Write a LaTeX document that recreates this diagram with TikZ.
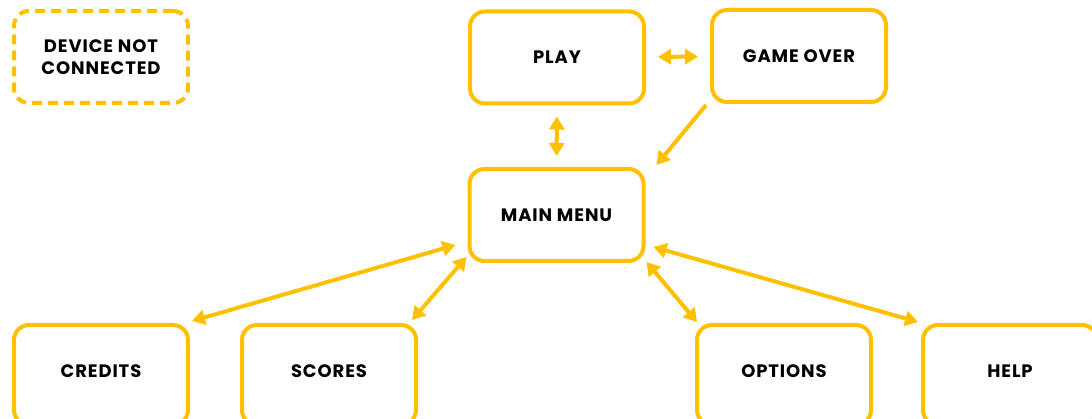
\documentclass[tikz,border=0pt]{standalone}
\usepackage{fontspec}
\setmainfont{Poppins}
\usetikzlibrary{arrows.meta}

\begin{document}
\begin{tikzpicture}[x=1pt, y=-1pt,
    screen/.style={draw=menuyellow, line width=4pt, rounded corners=15pt,
                   minimum width=174pt, minimum height=92pt, inner sep=0pt,
                   align=center, font=\bfseries\fontsize{18}{22}\selectfont\addfontfeature{LetterSpace=5}},
    lowscreen/.style={screen, minimum height=100pt, text depth=8pt},
    link/.style={draw=menuyellow, line width=4pt},
    flow/.style={link, {Triangle[length=13pt,width=15pt]}-{Triangle[length=13pt,width=15pt]}},
    goto/.style={link, -{Triangle[length=13pt,width=15pt]}}]
    \colorlet{menuyellow}{rgb,255:red,255;green,192;blue,0}
    \useasboundingbox (0,0) rectangle (1092,419);

    % screens
    \node[screen, dash pattern=on 10pt off 6pt] (nodev) at (101,57) {DEVICE NOT\\CONNECTED};
    \node[screen] (play)    at (557,57.5) {PLAY};
    \node[screen] (over)    at (799,56)   {GAME OVER};
    \node[screen] (main)    at (556.5,215) {MAIN MENU};
    \node[lowscreen] (credits) at (101,375)  {CREDITS};
    \node[lowscreen] (scores)  at (329,375)  {SCORES};
    \node[lowscreen] (options) at (784,375)  {OPTIONS};
    \node[lowscreen] (help)    at (1010,375) {HELP};

    % transitions
    \draw[flow, shorten <=12pt, shorten >=12pt] (play) -- (over);
    \draw[flow, shorten <=11pt, shorten >=11pt] (play) -- (main);
    \draw[goto] ([shift={(-4,1)}]over.south west) -- ([shift={(11,-2)}]main.north east);
    \draw[flow] ([shift={(-12,30)}]main.west) -- ([shift={(2,-2)}]credits.north east);
    \draw[flow] ([shift={(-1,-6)}]main.south west) -- ([shift={(-6,-3)}]scores.north east);
    \draw[flow] ([shift={(1,-1)}]main.south east) -- ([shift={(2,-1)}]options.north west);
    \draw[flow] ([shift={(8,32)}]main.east) -- ([shift={(-3,-1)}]help.north west);
\end{tikzpicture}
\end{document}
